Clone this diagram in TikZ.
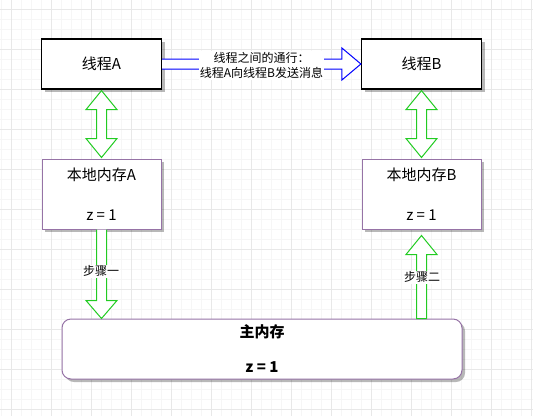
\documentclass[tikz,border=0pt]{standalone}
\usepackage{fontspec}
\setmainfont{Noto Sans CJK SC}
\usetikzlibrary{shadows,calc}
\definecolor{gridmajor}{HTML}{E8E8E8}
\definecolor{gridminor}{HTML}{F6F6F6}
\definecolor{boxpurple}{HTML}{9673A6}
\definecolor{arrowgreen}{HTML}{22CC22}
\definecolor{arrowblue}{HTML}{0000FF}
\begin{document}
\begin{tikzpicture}[x=1pt,y=-1pt,
  shadowed/.style={drop shadow={shadow xshift=3pt,shadow yshift=-3pt,fill=black,opacity=0.28}},
  threadbox/.style={draw=black,line width=1.2pt,fill=white,minimum width=120pt,minimum height=50pt,inner sep=0pt,shadowed,font=\fontsize{15}{18}\selectfont},
  localbox/.style={draw=boxpurple,line width=1pt,fill=white,minimum width=119pt,minimum height=70pt,inner sep=0pt,align=center,shadowed,font=\fontsize{15}{18}\selectfont},
  mainbox/.style={draw=boxpurple,line width=1pt,fill=white,rounded corners=9pt,minimum width=400pt,minimum height=60pt,inner sep=0pt,align=center,shadowed,font=\bfseries\fontsize{15}{17.5}\selectfont},
  garrow/.style={draw=arrowgreen,fill=white,line width=1pt,line join=miter},
  barrow/.style={draw=arrowblue,fill=white,line width=1pt,line join=miter},
  lbl/.style={fill=white,inner sep=1pt,align=center,font=\fontsize{12}{15}\selectfont}]
\useasboundingbox (0,0) rectangle (533,416);
\fill[white] (0,0) rectangle (533,416);
\foreach \x in {1.7,11.7,...,531.7} \draw[gridminor,line width=0.8pt] (\x,0) -- (\x,416);
\foreach \y in {9.3,19.3,...,415.3} \draw[gridminor,line width=0.8pt] (0,\y) -- (533,\y);
\foreach \x in {11.7,51.7,...,531.7} \draw[gridmajor,line width=0.8pt] (\x,0) -- (\x,416);
\foreach \y in {9.3,49.3,...,415.3} \draw[gridmajor,line width=0.8pt] (0,\y) -- (533,\y);

\node[threadbox] (tA) at (101.5,64) {线程A};
\node[threadbox] (tB) at (421.5,64) {线程B};
\node[localbox] (lA) at (101.5,194) {本地内存A\\[4pt] \\ z = 1};
\node[localbox] (lB) at (421.5,194) {本地内存B\\[4pt] \\ z = 1};
\node[mainbox] (mm) at (262,349) {主内存\\ \\ z = 1};

% blue arrow thread A -> thread B
\coordinate (bs) at (tA.east);
\coordinate (bt) at (tB.west);
\draw[barrow] ($(bs)+(0,-5)$) -- ($(bt)+(-19,-5)$) -- ($(bt)+(-19,-16)$) -- (bt)
  -- ($(bt)+(-19,16)$) -- ($(bt)+(-19,5)$) -- ($(bs)+(0,5)$);
\node[lbl] (msg) at (261.5,65.5) {线程之间的通行：\\线程A向线程B发送消息};

% green double arrows
\foreach \u/\l in {tA/lA,tB/lB}{
  \coordinate (dt) at ($(\u.south)+(0,1)$);
  \coordinate (db) at ($(\l.north)+(0,-1)$);
  \draw[garrow] (dt) -- ++(15.5,19) -- ++(-10.5,0) -- ($(db)+(5,-19)$) -- ++(10.5,0) -- (db)
    -- ++(-15.5,-19) -- ++(10.5,0) -- ($(dt)+(-5,19)$) -- ++(-10.5,0) -- cycle;
}

% step one: down arrow
\coordinate (s1a) at (lA.south);
\coordinate (s1b) at (lA.south |- mm.north);
\draw[garrow] ($(s1a)+(-5,0)$) -- ($(s1b)+(-5,-18)$) -- ++(-10.5,0) -- (s1b) -- ($(s1b)+(15.5,-18)$)
  -- ++(-10.5,0) -- ($(s1a)+(5,0)$);
\node[lbl] (st1) at (101,271) {步骤一};

% step two: up arrow
\coordinate (s2a) at (lB.south |- mm.north);
\coordinate (s2b) at ($(lB.south)+(0,6)$);
\draw[garrow] ($(s2a)+(-5,0)$) -- ($(s2b)+(-5,19)$) -- ++(-10.5,0) -- (s2b) -- ($(s2b)+(15.5,19)$)
  -- ++(-10.5,0) -- ($(s2a)+(5,0)$) -- cycle;
\node[lbl] (st2) at (422,277) {步骤二};
\end{tikzpicture}
\end{document}
